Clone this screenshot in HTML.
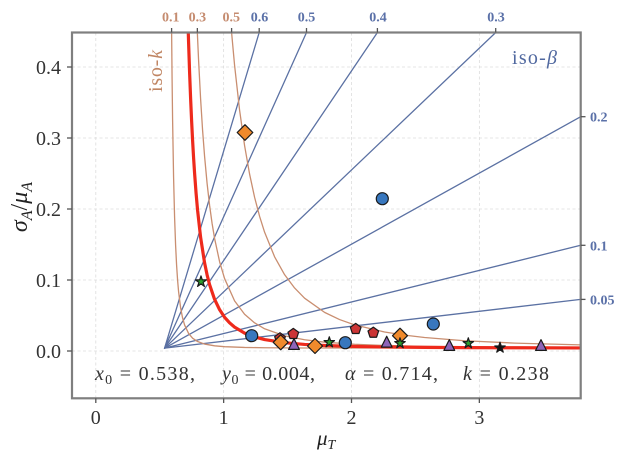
<!DOCTYPE html>
<html><head><meta charset="utf-8"><style>
html,body{margin:0;padding:0;background:#fff;}
svg{display:block;}
svg text{font-family:"Liberation Serif", "DejaVu Serif", serif;}
</style></head><body>
<svg width="622" height="456" viewBox="0 0 622 456" xmlns="http://www.w3.org/2000/svg" font-family="Liberation Serif, serif">
<defs>
<clipPath id="pa"><rect x="72" y="32.5" width="508.7" height="365.8"/></clipPath>
</defs>
<rect x="0" y="0" width="622" height="456" fill="#fff"/>
<!-- grid -->
<g stroke="#dcdcdc" stroke-width="0.8" stroke-dasharray="3,2.5">
<line x1="95.8" y1="32.5" x2="95.8" y2="398.3"/>
<line x1="223.65" y1="32.5" x2="223.65" y2="398.3"/>
<line x1="351.5" y1="32.5" x2="351.5" y2="398.3"/>
<line x1="479.35" y1="32.5" x2="479.35" y2="398.3"/>
<line x1="72" y1="351" x2="580.7" y2="351"/>
<line x1="72" y1="280" x2="580.7" y2="280"/>
<line x1="72" y1="209" x2="580.7" y2="209"/>
<line x1="72" y1="138" x2="580.7" y2="138"/>
<line x1="72" y1="67" x2="580.7" y2="67"/>
</g>
<g clip-path="url(#pa)" fill="none" stroke-linejoin="round" stroke-linecap="round">
<g stroke="#5b71a3" stroke-width="1.3">
<line x1="164.58" y1="348.16" x2="259.2" y2="32.5"/>
<line x1="164.58" y1="348.16" x2="306.5" y2="32.5"/>
<line x1="164.58" y1="348.16" x2="377.4" y2="32.5"/>
<line x1="164.58" y1="348.16" x2="495.7" y2="32.5"/>
<line x1="164.58" y1="348.16" x2="580.7" y2="116.7"/>
<line x1="164.58" y1="348.16" x2="580.7" y2="245.3"/>
<line x1="164.58" y1="348.16" x2="580.7" y2="299.4"/>
</g>
<g stroke="#c98e70" stroke-width="1.3">
<path d="M171.58,28.06 L172.08,78.76 L172.58,118.96 L173.58,177.36 L174.58,216.96 L175.58,244.76 L176.58,264.96 L177.58,280.06 L178.58,291.56 L180.58,307.66 L182.58,317.96 L184.58,324.96 L188.58,333.46 L192.58,338.16 L197.58,341.53 L204.58,344.06 L214.58,345.81 L224.58,346.67 L244.58,347.44 L264.58,347.75 L304.58,347.98 L580.7,348.15"/>
<path d="M197.08,25.86 L197.58,37.96 L198.58,60.26 L200.58,98.56 L202.58,130.16 L204.58,156.36 L207.08,183.36 L209.58,205.26 L212.08,223.36 L214.58,238.36 L219.58,261.66 L224.58,278.56 L234.58,300.86 L244.58,314.26 L254.58,322.86 L264.58,328.76 L284.58,335.86 L304.58,339.79 L324.58,342.17 L354.58,344.26 L384.58,345.46 L424.58,346.38 L464.58,346.92 L514.58,347.31 L580.7,347.61"/>
<path d="M231.08,26.56 L231.58,32.5 L234.58,65.26 L239.58,110.06 L244.58,145.56 L249.58,174.06 L254.58,197.26 L259.58,216.26 L264.58,232.16 L274.58,256.76 L284.58,274.66 L294.58,287.96 L304.58,298.16 L324.58,312.36 L339.58,319.56 L354.58,324.86 L384.58,332.0 L404.58,335.16 L424.58,337.52 L464.58,340.72 L514.58,343.1 L580.7,344.87"/>
</g>
<path stroke="#ee2a1c" stroke-width="3.2" d="M188.08,25.86 L188.58,42.36 L189.58,72.06 L190.58,97.86 L191.58,120.36 L192.58,140.16 L193.58,157.66 L194.58,173.16 L196.08,193.26 L197.58,210.26 L200.58,237.16 L204.58,262.86 L207.08,274.86 L209.58,284.66 L214.58,299.36 L219.58,309.66 L224.58,317.26 L229.58,322.83 L234.58,327.11 L244.58,333.09 L254.58,336.93 L264.58,339.53 L284.58,342.69 L304.58,344.44 L324.58,345.5 L354.58,346.43 L384.58,346.96 L424.58,347.37 L464.58,347.61 L514.58,347.78 L580.7,347.92"/>
</g>
<!-- markers -->
<g stroke="#1a1a1a" stroke-width="1.2" stroke-linejoin="round">
<g fill="#3877be">
<circle cx="251.7" cy="335.7" r="6"/>
<circle cx="345.3" cy="342.7" r="6"/>
<circle cx="382.3" cy="198.7" r="6"/>
<circle cx="433.3" cy="324" r="6"/>
</g>
<g fill="#cc3535">
<polygon transform="translate(280,338.3)" points="0,-5.6 5.33,-1.73 3.29,4.53 -3.29,4.53 -5.33,-1.73"/>
<polygon transform="translate(293.3,334)" points="0,-5.6 5.33,-1.73 3.29,4.53 -3.29,4.53 -5.33,-1.73"/>
<polygon transform="translate(355.7,329)" points="0,-5.6 5.33,-1.73 3.29,4.53 -3.29,4.53 -5.33,-1.73"/>
<polygon transform="translate(373.3,332.7)" points="0,-5.6 5.33,-1.73 3.29,4.53 -3.29,4.53 -5.33,-1.73"/>
</g>
<g fill="#f08a2c">
<polygon transform="translate(245,132.5)" points="0,-7.8 7.8,0 0,7.8 -7.8,0"/>
<polygon transform="translate(280.7,342.3)" points="0,-7.5 7.5,0 0,7.5 -7.5,0"/>
<polygon transform="translate(315,346)" points="0,-7.5 7.5,0 0,7.5 -7.5,0"/>
<polygon transform="translate(400,335.7)" points="0,-7.5 7.5,0 0,7.5 -7.5,0"/>
</g>
<g fill="#8e63b8">
<polygon transform="translate(294,344)" points="0,-5.4 5.4,5.4 -5.4,5.4"/>
<polygon transform="translate(386.7,341.7)" points="0,-5.4 5.4,5.4 -5.4,5.4"/>
<polygon transform="translate(449.3,345)" points="0,-5.4 5.4,5.4 -5.4,5.4"/>
<polygon transform="translate(541,345)" points="0,-5.4 5.4,5.4 -5.4,5.4"/>
</g>
<g fill="#2ca02c">
<polygon transform="translate(201,281.7)" points="0,-5.8 1.3,-1.79 5.52,-1.79 2.1,0.69 3.41,4.69 0,2.21 -3.41,4.69 -2.1,0.69 -5.52,-1.79 -1.3,-1.79"/>
<polygon transform="translate(329.3,342.3)" points="0,-5.5 1.24,-1.7 5.23,-1.7 2,0.65 3.23,4.45 0,2.1 -3.23,4.45 -2,0.65 -5.23,-1.7 -1.24,-1.7"/>
<polygon transform="translate(400,343.3)" points="0,-5.5 1.24,-1.7 5.23,-1.7 2,0.65 3.23,4.45 0,2.1 -3.23,4.45 -2,0.65 -5.23,-1.7 -1.24,-1.7"/>
<polygon transform="translate(468.3,343.3)" points="0,-5.5 1.24,-1.7 5.23,-1.7 2,0.65 3.23,4.45 0,2.1 -3.23,4.45 -2,0.65 -5.23,-1.7 -1.24,-1.7"/>
</g>
<polygon fill="#111" transform="translate(500,347.7)" points="0,-5.5 1.24,-1.7 5.23,-1.7 2,0.65 3.23,4.45 0,2.1 -3.23,4.45 -2,0.65 -5.23,-1.7 -1.24,-1.7"/>
</g>
<!-- frame -->
<rect x="72" y="32.5" width="508.7" height="365.8" fill="none" stroke="#7f7f7f" stroke-width="2.2"/>
<!-- ticks -->
<g stroke="#555" stroke-width="1.3">
<line x1="95.8" y1="398.3" x2="95.8" y2="403"/>
<line x1="223.65" y1="398.3" x2="223.65" y2="403"/>
<line x1="351.5" y1="398.3" x2="351.5" y2="403"/>
<line x1="479.35" y1="398.3" x2="479.35" y2="403"/>
<line x1="67" y1="351" x2="72" y2="351"/>
<line x1="67" y1="280" x2="72" y2="280"/>
<line x1="67" y1="209" x2="72" y2="209"/>
<line x1="67" y1="138" x2="72" y2="138"/>
<line x1="67" y1="67" x2="72" y2="67"/>
<line x1="171.6" y1="28" x2="171.6" y2="32.5"/>
<line x1="197.35" y1="28" x2="197.35" y2="32.5"/>
<line x1="231.6" y1="28" x2="231.6" y2="32.5"/>
<line x1="259.2" y1="28" x2="259.2" y2="32.5"/>
<line x1="306.5" y1="28" x2="306.5" y2="32.5"/>
<line x1="377.4" y1="28" x2="377.4" y2="32.5"/>
<line x1="495.7" y1="28" x2="495.7" y2="32.5"/>
<line x1="580.7" y1="116.7" x2="585.5" y2="116.7"/>
<line x1="580.7" y1="245.3" x2="585.5" y2="245.3"/>
<line x1="580.7" y1="299.4" x2="585.5" y2="299.4"/>
</g>
<!-- tick labels -->
<g font-size="20" fill="#333" text-anchor="end">
<text x="61" y="358">0.0</text>
<text x="61" y="287">0.1</text>
<text x="61" y="216">0.2</text>
<text x="61" y="145">0.3</text>
<text x="61" y="74">0.4</text>
</g>
<g font-size="20" fill="#333" text-anchor="middle">
<text x="95.8" y="424">0</text>
<text x="223.65" y="424">1</text>
<text x="351.5" y="424">2</text>
<text x="479.35" y="424">3</text>
</g>
<g font-size="14" font-weight="bold" text-anchor="middle">
<text x="170.8" y="21.5" fill="#c58c70">0.1</text>
<text x="197.4" y="21.5" fill="#c58c70">0.3</text>
<text x="231.2" y="21.5" fill="#c58c70">0.5</text>
<text x="259.5" y="21.5" fill="#5b71a8">0.6</text>
<text x="306.5" y="21.5" fill="#5b71a8">0.5</text>
<text x="378" y="21.5" fill="#5b71a8">0.4</text>
<text x="496" y="21.5" fill="#5b71a8">0.3</text>
</g>
<g font-size="14" font-weight="bold" fill="#5b71a8">
<text x="590" y="121.7">0.2</text>
<text x="590" y="250.3">0.1</text>
<text x="590" y="304.4">0.05</text>
</g>
<!-- labels -->
<text x="512" y="64" font-size="20" fill="#50689f" textLength="45" lengthAdjust="spacing">iso-<tspan font-style="italic">β</tspan></text>
<text transform="translate(162,71) rotate(-90)" text-anchor="middle" font-size="20" fill="#c08563" textLength="42" lengthAdjust="spacing">iso-<tspan font-style="italic">k</tspan></text>
<text transform="translate(27,207) rotate(-90)" text-anchor="middle" font-size="24" fill="#222"><tspan font-style="italic">σ</tspan><tspan font-style="italic" font-size="16" dy="5">A</tspan><tspan dy="-5">/</tspan><tspan font-style="italic">μ</tspan><tspan font-style="italic" font-size="16" dy="5">A</tspan></text>
<text x="317" y="445" font-size="21" fill="#222"><tspan font-style="italic">μ</tspan><tspan font-style="italic" font-size="14" dy="4">T</tspan></text>
<!-- annotation -->
<g font-size="20" fill="#333">
<text x="95" y="380" textLength="100" lengthAdjust="spacing"><tspan font-style="italic">x</tspan><tspan font-size="14" dy="4">0</tspan><tspan dy="-4"> = 0.538,</tspan></text>
<text x="222" y="380" textLength="93" lengthAdjust="spacing"><tspan font-style="italic">y</tspan><tspan font-size="14" dy="4">0</tspan><tspan dy="-4"> = 0.004,</tspan></text>
<text x="345" y="380" textLength="93" lengthAdjust="spacing"><tspan font-style="italic">α</tspan> = 0.714,</text>
<text x="463" y="380" textLength="86" lengthAdjust="spacing"><tspan font-style="italic">k</tspan> = 0.238</text>
</g>
</svg>
</body></html>
